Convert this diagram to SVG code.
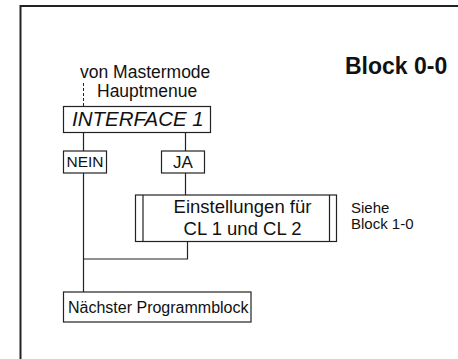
<svg xmlns="http://www.w3.org/2000/svg" width="458" height="359" viewBox="0 0 458 359">
  <style>
    text { font-family: "Liberation Sans", Arial, sans-serif; fill: #111; }
    .box { fill: #fff; stroke: #222; stroke-width: 1.2; }
    .wire { fill: none; stroke: #222; stroke-width: 1.2; }
    .dash { fill: none; stroke: #222; stroke-width: 1; stroke-dasharray: 3 2; }
  </style>
  <rect width="458" height="359" fill="#fff"/>
  <!-- page frame (open to the right and bottom) -->
  <path d="M20.5,359 V6 H458" fill="none" stroke="#222" stroke-width="2"/>

  <text x="345" y="74" font-size="23" font-weight="bold">Block 0-0</text>

  <g id="connectors">
    <path class="dash" d="M83.5,83 V106"/>
    <path class="wire" d="M83.5,132 V151 M185.5,132 V151"/>
    <path class="wire" d="M185.5,173 V195"/>
    <path class="wire" d="M83.5,173 V292 M83.5,259 H187.5 V241"/>
  </g>

  <g id="origin">
    <text x="80" y="78" font-size="17.5">von Mastermode</text>
    <text x="97" y="97" font-size="17.5">Hauptmenue</text>
  </g>

  <g id="interface">
    <rect class="box" x="63.5" y="106.5" width="147" height="26"/>
    <text x="72" y="126" font-size="20.5" font-style="italic">INTERFACE 1</text>
  </g>

  <g id="nein">
    <rect class="box" x="63.5" y="151" width="43" height="22"/>
    <text x="85" y="167" font-size="15.5" text-anchor="middle">NEIN</text>
  </g>

  <g id="ja">
    <rect class="box" x="161.5" y="151" width="43" height="22"/>
    <text x="183" y="167.5" font-size="17" text-anchor="middle">JA</text>
  </g>

  <g id="einstellungen">
    <rect class="box" x="135.5" y="195" width="201" height="46.5"/>
    <path class="wire" d="M143,195 V241.5 M329.5,195 V241.5"/>
    <text x="242.5" y="212.5" font-size="18.5" text-anchor="middle">Einstellungen für</text>
    <text x="242.5" y="234.5" font-size="18.5" text-anchor="middle">CL 1 und CL 2</text>
  </g>

  <g id="siehe">
    <text x="351" y="213" font-size="15">Siehe</text>
    <text x="351" y="229" font-size="15">Block 1-0</text>
  </g>

  <g id="naechster">
    <rect class="box" x="63.5" y="292" width="187.5" height="30"/>
    <text x="68" y="313" font-size="16">Nächster Programmblock</text>
  </g>
</svg>
